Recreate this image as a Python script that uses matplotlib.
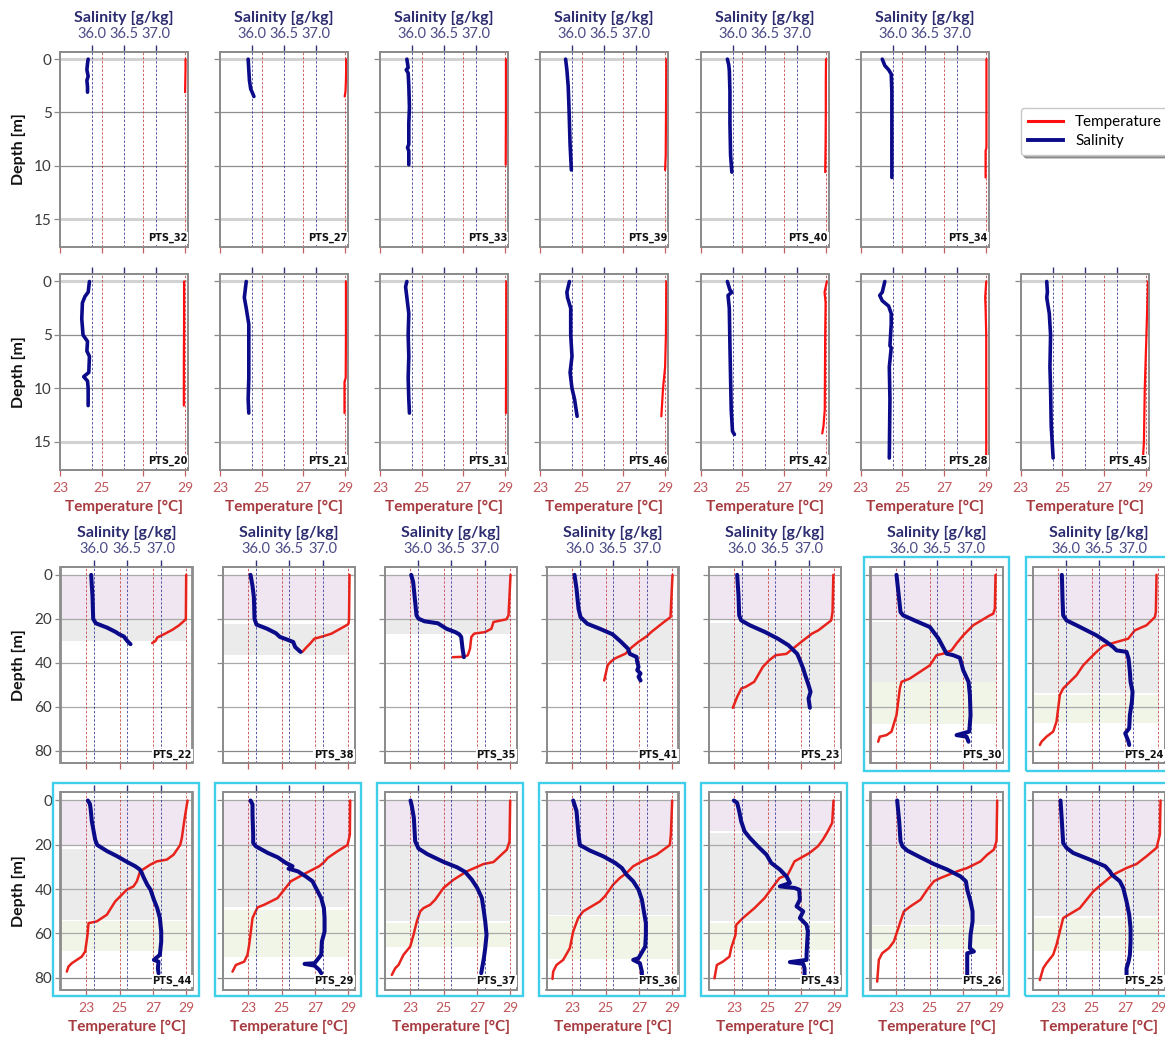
import matplotlib

matplotlib.use("Agg")
import matplotlib.pyplot as plt
from matplotlib.lines import Line2D
from matplotlib.patches import Rectangle

plt.rcParams["font.family"] = ["Lato", "DejaVu Sans"]

# ---------------------------------------------------------------------------
# Profiles: depth [m], temperature [degC], salinity [g/kg]
# ---------------------------------------------------------------------------

# shallow stations (top two rows)
z32t = [0.0, 1.0, 2.0, 3.1]
t32 = [29.02, 29.02, 29.01, 29.0]
z32s = [0.0, 0.4, 1.0, 1.6, 2.0, 2.6, 3.1]
s32 = [35.94, 35.93, 35.92, 35.94, 35.92, 35.93, 35.93]

z27t = [0.0, 1.0, 2.0, 3.0, 3.5]
t27 = [29.05, 29.05, 29.04, 29.02, 28.98]
z27s = [0.0, 1.0, 2.0, 2.8, 3.2, 3.5]
s27 = [35.94, 35.95, 35.96, 35.98, 36.01, 36.03]

z33t = [0.0, 5.0, 9.9]
t33 = [29.04, 29.04, 29.03]
z33s = [0.0, 0.8, 1.0, 1.3, 2.5, 4.5, 6.0, 8.0, 8.3, 8.6, 9.9]
s33 = [35.92, 35.94, 35.91, 35.94, 35.95, 35.96, 35.95, 35.95, 35.93, 35.95, 35.95]

z39t = [0.0, 3.0, 6.0, 9.0, 10.4]
t39 = [29.06, 29.05, 29.04, 29.03, 29.0]
z39s = [0.0, 1.0, 2.5, 4.0, 6.0, 8.0, 10.4]
s39 = [35.90, 35.92, 35.94, 35.95, 35.96, 35.97, 35.99]

z40t = [0.0, 2.0, 5.0, 8.0, 10.6]
t40 = [29.02, 29.01, 29.01, 29.0, 28.98]
z40s = [0.0, 0.5, 1.0, 3.0, 6.0, 9.0, 10.6]
s40 = [35.92, 35.94, 35.95, 35.96, 35.96, 35.97, 35.99]

z34t = [0.0, 4.0, 8.3, 8.6, 11.1]
t34 = [29.04, 29.04, 29.04, 29.0, 29.0]
z34s = [0.0, 0.6, 1.0, 1.4, 3.0, 6.0, 9.0, 11.1]
s34 = [35.84, 35.88, 35.94, 35.98, 35.99, 35.99, 35.99, 35.99]

z20t = [0.0, 4.0, 8.0, 11.6]
t20 = [28.95, 28.95, 28.94, 28.94]
z20s = [0.0, 1.0, 1.4, 2.0, 3.5, 5.0, 5.6, 6.5, 7.0, 8.5, 8.9, 9.3, 10.0, 11.6]
s20 = [35.96, 35.94, 35.89, 35.85, 35.84, 35.86, 35.93, 35.92, 35.96, 35.95, 35.87, 35.93, 35.94, 35.94]

z21t = [0.0, 5.0, 9.0, 9.4, 12.3]
t21 = [29.04, 29.04, 29.03, 28.97, 28.97]
z21s = [0.0, 1.0, 1.5, 2.5, 4.0, 6.0, 9.0, 11.0, 12.3]
s21 = [35.91, 35.89, 35.88, 35.91, 35.95, 35.95, 35.95, 35.94, 35.95]

z31t = [0.0, 6.0, 12.3]
t31 = [29.06, 29.05, 29.04]
z31s = [0.0, 0.5, 1.5, 3.0, 5.0, 7.0, 9.0, 11.0, 12.3]
s31 = [35.92, 35.90, 35.92, 35.95, 35.94, 35.95, 35.94, 35.95, 35.96]

z46t = [0.0, 5.0, 8.0, 10.0, 12.6]
t46 = [29.06, 29.04, 29.0, 28.9, 28.82]
z46s = [0.0, 1.0, 1.5, 2.5, 5.0, 7.0, 8.5, 10.0, 11.0, 12.6]
s46 = [35.96, 35.92, 35.93, 35.98, 35.98, 36.0, 35.97, 36.0, 36.04, 36.08]

z42t = [0.0, 1.0, 2.0, 5.0, 12.0, 13.5, 14.2]
t42 = [29.06, 28.95, 29.0, 28.98, 28.96, 28.9, 28.84]
z42s = [0.0, 0.8, 1.0, 1.3, 2.5, 6.0, 12.0, 14.0, 14.3]
s42 = [35.92, 35.96, 35.99, 35.93, 35.95, 35.96, 35.98, 36.0, 36.03]

z28t = [0.0, 1.5, 2.5, 5.0, 16.3]
t28 = [29.03, 28.98, 29.0, 29.03, 29.03]
z28s = [0.0, 1.0, 1.3, 1.8, 2.3, 3.0, 4.0, 6.0, 6.2, 8.0, 11.0, 16.5]
s28 = [35.88, 35.84, 35.80, 35.84, 35.94, 35.98, 35.98, 35.96, 35.98, 35.95, 35.96, 35.95]

z45t = [0.0, 3.0, 5.0, 10.0, 15.0, 16.3]
t45 = [29.12, 29.07, 29.04, 28.96, 28.92, 28.88]
z45s = [0.0, 1.0, 1.5, 3.0, 5.0, 8.0, 10.0, 13.5, 16.5]
s45 = [35.91, 35.92, 35.91, 35.95, 35.97, 35.96, 35.97, 35.98, 36.01]

# deep stations (bottom two rows)
z22t = [0, 20, 21, 23, 25, 27, 28.5, 30, 31]
t22 = [28.99, 28.97, 28.85, 28.55, 28.15, 27.65, 27.25, 27.15, 26.95]
z22s = [0, 10, 20, 22, 24, 26, 27, 28, 30, 31.5]
s22 = [35.96, 35.98, 35.99, 36.03, 36.2, 36.33, 36.38, 36.45, 36.5, 36.55]

z38t = [0, 20, 22.2, 22.9, 26.7, 28.2, 29, 31.2, 32.8, 35]
t38 = [29.07, 29.04, 29.01, 28.89, 27.99, 27.35, 26.96, 26.71, 26.5, 26.24]
z38s = [0, 5, 10, 20, 22.6, 24.5, 26.5, 28.2, 29.3, 30.5, 32.8, 35]
s38 = [35.92, 35.95, 35.97, 35.98, 36.01, 36.17, 36.3, 36.36, 36.46, 36.56, 36.59, 36.67]

z35t = [0, 18.4, 20.2, 21.4, 24.5, 26, 26.7, 28.2, 33.5, 36.5, 37.2, 37.4]
t35 = [29.01, 28.89, 28.76, 27.99, 27.86, 27.48, 26.83, 26.66, 26.58, 26.45, 26.24, 25.55]
z35s = [0, 3.3, 9.4, 18.4, 19.9, 21.1, 22, 24.5, 26, 27, 28.2, 33.5, 37.4]
s35 = [35.90, 35.93, 35.95, 35.98, 36.01, 36.1, 36.3, 36.43, 36.56, 36.62, 36.65, 36.67, 36.69]

z41t = [0, 10.9, 19.2, 21.4, 26, 27.8, 30.5, 32.8, 35.8, 38, 39.5, 41, 48]
t41 = [29.01, 28.94, 28.89, 28.5, 27.73, 27.48, 26.96, 26.58, 26.19, 25.55, 25.3, 25.12, 24.91]
z41s = [0, 6.3, 15.4, 19.2, 22.2, 24.5, 27, 30.5, 33.5, 35.9, 37.3, 39.5, 41.8, 43.3, 44.8, 46.3, 48]
s41 = [35.92, 35.95, 35.98, 36.01, 36.11, 36.3, 36.49, 36.62, 36.72, 36.75, 36.85, 36.86, 36.88,
       36.86, 36.91, 36.88, 36.91]

z23t = [0, 16.9, 20.7, 25.2, 26.7, 30.5, 35.9, 36.5, 38.8, 41.8, 48.6, 50.9, 51.6, 55.4, 60.4]
t23 = [28.94, 28.89, 28.81, 28.04, 27.66, 27.01, 26.12, 25.48, 25.09, 24.71, 24.19, 23.68, 23.42,
       23.17, 22.91]
z23s = [0, 9.4, 18.4, 20.7, 22.9, 26, 29, 32, 35.9, 38, 42.6, 45.6, 50.1, 53.1, 56.2, 60.4]
s23 = [35.93, 35.95, 35.96, 35.99, 36.12, 36.35, 36.54, 36.7, 36.83, 36.86, 36.92, 36.95, 37.0,
       37.03, 37.0, 37.02]

z30t = [0, 15.4, 17.7, 18.4, 21.1, 22.9, 27.5, 31.2, 34.3, 35.8, 36.5, 38.8, 41.1, 42.6, 47.1,
        48.6, 51.6, 57.7, 63.7, 71.2, 72.8, 73.5, 75.8]
t30 = [28.95, 28.91, 28.81, 28.61, 28.01, 27.61, 27.01, 26.61, 26.31, 25.81, 25.41, 25.21, 25.01,
       24.71, 23.81, 23.31, 23.21, 23.11, 23.01, 22.71, 22.41, 22.01, 21.91]
z30s = [0, 16.9, 18.4, 21.1, 23.7, 29, 35.8, 36.5, 37.7, 43.3, 48.6, 54.6, 63.7, 71.2, 72.8,
        73.5, 75.8]
s30 = [35.89, 35.95, 35.99, 36.19, 36.39, 36.52, 36.64, 36.74, 36.84, 36.89, 36.97, 36.99, 37.0,
       36.98, 36.79, 36.94, 36.97]

z24t = [0, 16.9, 19.2, 22.9, 25.2, 29, 30.5, 32.3, 35, 38, 41.1, 45.6, 48.6, 51.6, 54.6, 60.7,
        66.7, 71.2, 73.5, 75.8, 77.3]
t24 = [28.89, 28.85, 28.79, 28.29, 27.59, 27.19, 26.49, 25.69, 25.29, 24.89, 24.49, 24.09, 23.69,
       23.29, 23.09, 22.99, 22.89, 22.69, 22.29, 21.99, 21.89]
z24s = [0, 10.9, 18.4, 20.7, 22.9, 25.2, 27.5, 30.5, 32.8, 34.3, 35, 38, 44.1, 48.6, 53.1, 57.7,
        63.7, 69.7, 72, 73.5, 75.8, 77.3]
s24 = [35.94, 35.95, 35.96, 36.01, 36.16, 36.31, 36.46, 36.61, 36.71, 36.76, 36.91, 36.94, 36.96,
       36.97, 37.0, 36.99, 36.96, 36.95, 36.89, 36.91, 36.94, 36.95]

z44t = [0, 9.4, 16.9, 20.1, 24.5, 26.7, 27.5, 29, 32, 36.5, 38.8, 40.3, 41.8, 45.6, 51.6, 54.6,
        55.4, 60.7, 68.2, 70.5, 73.5, 75, 77.3]
t44 = [29.07, 28.87, 28.73, 28.63, 28.23, 27.83, 27.23, 26.83, 26.23, 26.03, 25.83, 25.43, 25.23,
       24.73, 24.23, 23.63, 23.13, 23.07, 22.93, 22.73, 22.13, 21.93, 21.83]
z44s = [0, 1.5, 3.3, 9.4, 17.7, 20.1, 22.9, 25.2, 27.8, 29.7, 31.2, 32.8, 34.3, 38, 40.3, 44.8,
        48.6, 53.1, 59.2, 63.7, 69.7, 72, 72.8, 75.8, 78]
s44 = [35.91, 35.94, 35.95, 35.97, 36.02, 36.05, 36.2, 36.35, 36.5, 36.62, 36.69, 36.72, 36.74,
       36.8, 36.85, 36.9, 36.95, 36.99, 37.01, 37.01, 36.99, 36.9, 36.97, 36.96, 36.97]

z29t = [0, 15.4, 20.1, 22.9, 26, 27.8, 29.7, 32.8, 36.5, 40.3, 44.1, 47.1, 48.3, 53.1, 59.2,
        65.2, 69.7, 72.8, 74.3, 77.3]
t29 = [29.11, 29.09, 28.95, 28.35, 27.75, 27.55, 27.25, 26.45, 25.55, 25.15, 24.75, 23.95, 23.55,
       23.25, 23.15, 23.05, 22.95, 22.75, 22.25, 22.05]
z29s = [0, 1.8, 6.3, 15.4, 19.2, 20.7, 23.7, 25.7, 28.2, 29.7, 30.8, 32, 34.3, 36.5, 39.5, 44.1,
        48.6, 53.1, 59.2, 63.7, 69.7, 73.5, 73.8, 74.6, 76.5, 78]
s29 = [35.92, 35.95, 35.95, 35.96, 35.96, 36.0, 36.18, 36.33, 36.45, 36.55, 36.49, 36.63, 36.75,
       36.85, 36.9, 36.98, 37.02, 37.03, 37.03, 36.99, 36.98, 36.88, 36.73, 36.88, 36.95, 36.98]

z37t = [0, 18.4, 22.2, 27.8, 28.7, 32, 35.8, 39.5, 44.8, 47.1, 48.6, 50.1, 54.6, 60.7, 66,
        69.7, 74.3, 75.8, 78.8]
t37 = [28.99, 28.95, 28.79, 27.99, 27.39, 26.39, 25.59, 24.99, 24.49, 24.19, 23.79, 23.59, 23.39,
       23.19, 22.99, 22.59, 22.29, 22.09, 21.89]
z37s = [0, 2.6, 7.8, 18.4, 21.7, 24.2, 27.8, 30.2, 32.3, 35.8, 39.5, 44.1, 50.1, 54.6, 60.7,
        66.7, 71.2, 78]
s37 = [35.89, 35.91, 35.94, 35.96, 36.01, 36.14, 36.39, 36.59, 36.71, 36.81, 36.89, 36.96, 36.99,
       37.01, 37.03, 37.01, 36.99, 36.95]

z36t = [0, 15.4, 20.1, 24.5, 27.2, 29.7, 32.8, 35, 38, 43.3, 45.6, 50.1, 53.1, 59.2, 66.7, 72,
        74.3, 77.3, 80.6]
t36 = [28.99, 28.91, 28.85, 28.05, 27.25, 26.65, 26.25, 25.85, 25.45, 24.95, 24.65, 23.65, 23.35,
       23.05, 22.85, 22.45, 22.05, 21.85, 21.81]
z36s = [0, 4.8, 15.4, 20.1, 22.6, 25.2, 28.2, 30.5, 33.5, 36.5, 40.3, 44.8, 50.1, 55.4, 60.7,
        66, 71.2, 72, 73.5, 77.3, 80.3]
s36 = [35.9, 35.95, 35.98, 36.0, 36.15, 36.35, 36.53, 36.63, 36.7, 36.8, 36.88, 36.93, 36.96,
       36.99, 36.99, 36.98, 36.88, 36.8, 36.9, 36.93, 36.93]

z43t = [0, 10.1, 13.9, 17.7, 20.7, 23.7, 27.5, 32, 33.5, 35, 38, 44.1, 48.6, 53.1, 56.2, 60.7,
        66.7, 70.5, 72.8, 74.3, 80.3]
t43 = [28.95, 28.87, 28.61, 28.31, 28.01, 27.51, 26.61, 26.31, 26.21, 25.71, 25.41, 24.81, 24.21,
       23.51, 23.11, 23.07, 22.81, 22.71, 22.31, 21.95, 21.81]
z43s = [0, 1.1, 4.8, 9.4, 13.9, 16.9, 20.7, 24.5, 28.2, 31.2, 34.3, 37.3, 38.8, 39.5, 40.3, 44.8,
        47.8, 50.1, 53.1, 56.2, 59.2, 63.7, 69.7, 72, 73, 73.8, 75.8, 80.3]
s43 = [35.88, 35.93, 35.96, 35.99, 36.04, 36.12, 36.24, 36.37, 36.44, 36.57, 36.67, 36.72, 36.57,
       36.79, 36.86, 36.87, 36.82, 36.92, 36.87, 36.97, 36.99, 36.98, 36.97, 36.97, 36.72, 36.92,
       36.94, 36.94]

z26t = [0, 18.4, 22.2, 24.5, 27.5, 30.5, 32, 35, 36.5, 40.3, 44.8, 47.8, 50.1, 54.6, 59.2, 63.7,
        66.7, 69, 72, 81.8]
t26 = [29.05, 29.01, 28.85, 28.45, 28.05, 27.25, 26.65, 25.65, 25.25, 24.85, 24.45, 23.85, 23.45,
       23.25, 23.05, 22.85, 22.55, 22.15, 21.95, 21.85]
z26s = [0, 9.4, 18.4, 20.7, 22.6, 25.7, 28.7, 31.2, 34.3, 36.5, 40.3, 45.6, 50.1, 54.6, 60.7,
        66.7, 68.2, 69, 72.8, 81.1]
s26 = [35.9, 35.93, 35.95, 35.98, 36.05, 36.25, 36.45, 36.65, 36.85, 36.93, 36.95, 37.0, 37.03,
       37.03, 37.0, 36.99, 37.05, 36.95, 36.95, 36.95]

z25t = [0, 15.4, 21.4, 25.2, 28.7, 30.5, 33.5, 37.3, 41.1, 48.6, 53.1, 59.2, 65.2, 69.7, 73.5,
        75.8, 81.1]
t25 = [29.13, 29.09, 28.89, 28.29, 27.69, 27.09, 26.29, 25.69, 25.09, 24.29, 23.29, 23.09, 22.89,
       22.69, 22.29, 22.09, 21.89]
z25s = [0, 9.4, 19.2, 21.4, 23.7, 26.7, 29.7, 32, 33.5, 36.5, 39.5, 45.6, 51.6, 57.7, 63.7,
        69.7, 72.8, 75.8, 81.1]
s25 = [35.92, 35.94, 35.96, 36.01, 36.11, 36.36, 36.59, 36.66, 36.69, 36.81, 36.86, 36.91, 36.95,
       36.97, 36.97, 36.96, 36.94, 36.91, 36.91]

# layer depths [m] shaded in the deep stations (None = no layer)
BAND_STATIONS = ["PTS_22", "PTS_38", "PTS_35", "PTS_41", "PTS_23", "PTS_30", "PTS_24",
                 "PTS_44", "PTS_29", "PTS_37", "PTS_36", "PTS_43", "PTS_26", "PTS_25"]
MIXED_TOP = [0, 0, 0, 0.5, 0.75, 0, 0, 0, 0, 0, 0, 0, 0, 0]
MIXED_BOT = [20, 20, 20, 20, 20, 20, 20, 20, 20, 20, 20, 13.6, 20, 20]
CLINE_TOP = [20, 22.3, 20, 20, 21.7, 21.4, 20.6, 21.7, 20.6, 20.6, 20.6, 14.6, 21.1, 20.6]
CLINE_BOT = [30, 36.2, 26.8, 39, 60.4, 48.6, 53.7, 54.1, 48.2, 54.6, 51.6, 54.6, 56.1, 52.3]
DEEP_TOP = [None, None, None, None, None, 48.6, 54.5, 54.6, 49.3, 55.4, 52.4, 55.4, 56.9, 53.1]
DEEP_BOT = [None, None, None, None, None, 67.9, 67.4, 68.2, 70.9, 66.4, 71.7, 67.4, 67.0, 68.2]

ROW1 = ["PTS_32", "PTS_27", "PTS_33", "PTS_39", "PTS_40", "PTS_34"]
ROW2 = ["PTS_20", "PTS_21", "PTS_31", "PTS_46", "PTS_42", "PTS_28", "PTS_45"]
ROW3 = ["PTS_22", "PTS_38", "PTS_35", "PTS_41", "PTS_23", "PTS_30", "PTS_24"]
ROW4 = ["PTS_44", "PTS_29", "PTS_37", "PTS_36", "PTS_43", "PTS_26", "PTS_25"]
BOXED = ["PTS_30", "PTS_24"] + ROW4

PROFILES = {
    "PTS_32": (z32t, t32, z32s, s32), "PTS_27": (z27t, t27, z27s, s27),
    "PTS_33": (z33t, t33, z33s, s33), "PTS_39": (z39t, t39, z39s, s39),
    "PTS_40": (z40t, t40, z40s, s40), "PTS_34": (z34t, t34, z34s, s34),
    "PTS_20": (z20t, t20, z20s, s20), "PTS_21": (z21t, t21, z21s, s21),
    "PTS_31": (z31t, t31, z31s, s31), "PTS_46": (z46t, t46, z46s, s46),
    "PTS_42": (z42t, t42, z42s, s42), "PTS_28": (z28t, t28, z28s, s28),
    "PTS_45": (z45t, t45, z45s, s45),
    "PTS_22": (z22t, t22, z22s, s22), "PTS_38": (z38t, t38, z38s, s38),
    "PTS_35": (z35t, t35, z35s, s35), "PTS_41": (z41t, t41, z41s, s41),
    "PTS_23": (z23t, t23, z23s, s23), "PTS_30": (z30t, t30, z30s, s30),
    "PTS_24": (z24t, t24, z24s, s24), "PTS_44": (z44t, t44, z44s, s44),
    "PTS_29": (z29t, t29, z29s, s29), "PTS_37": (z37t, t37, z37s, s37),
    "PTS_36": (z36t, t36, z36s, s36), "PTS_43": (z43t, t43, z43s, s43),
    "PTS_26": (z26t, t26, z26s, s26), "PTS_25": (z25t, t25, z25s, s25),
}

TEMP_TICKS = [23, 25, 27, 29]
SAL_TICKS = [36.0, 36.5, 37.0]
SHALLOW_TICKS = [0, 5, 10, 15]
DEEP_TICKS = [0, 20, 40, 60, 80]

# ---------------------------------------------------------------------------
# Layout (pixels)
# ---------------------------------------------------------------------------
FIG_W, FIG_H = 1165, 1038
SHALLOW_LEFTS = [60, 220, 380, 540, 700.5, 860.5, 1020.5]
DEEP_LEFTS = [60.5, 222.5, 384.5, 546.5, 708.5, 870.5, 1032.5]
SHALLOW_W, DEEP_W = 128, 132
ROW_SPANS = [(51.7, 247.0), (274.0, 470.0), (566.7, 763.3), (792.3, 990.0)]

RED = "#ff0f0f"
RED_DEEP = "#e8231c"
NAVY = "#0b0b8a"
SAL_TEXT = "#2c2c70"
SAL_TICK_TEXT = "#4b4b86"
TEMP_TEXT = "#a63a3f"
TEMP_TICK_TEXT = "#c0555a"
SPINE = "#8c8c8c"
CYAN = "#3fcfe9"
BAND_COLORS = ["#efe6f1", "#ebebeb", "#f1f5e8"]


def px_rect(left, top, width, bottom):
    return [left / FIG_W, 1 - bottom / FIG_H, width / FIG_W, (bottom - top) / FIG_H]


def add_panel(fig, name, left, span, deep, sal_labels, temp_labels, first_col):
    top, bottom = span
    width = DEEP_W if deep else SHALLOW_W
    ax = fig.add_axes(px_rect(left, top, width, bottom))
    axs = ax.twiny()

    z_t, temp, z_s, sal = PROFILES[name]

    if deep:
        ax.set_xlim(21.45, 21.45 + width / 16.67)
        axs.set_xlim(35.5, 35.5 + width / 66.7)
        ax.set_ylim(85.6, -3.7)
        yticks = DEEP_TICKS
        idx = BAND_STATIONS.index(name)
        spans = [(MIXED_TOP[idx], MIXED_BOT[idx]), (CLINE_TOP[idx], CLINE_BOT[idx]),
                 (DEEP_TOP[idx], DEEP_BOT[idx])]
        for (z0, z1), color in zip(spans, BAND_COLORS):
            if z0 is not None:
                ax.axhspan(z0, z1, xmin=0, xmax=0.96, color=color, lw=0, zorder=0)
        for d in yticks:
            ax.axhline(d, color="#888888" if d == 80 else "#a9a9a9", lw=0.9, zorder=0.5)
        t_color, t_lw, s_lw = RED_DEEP, 1.8, 2.9
    else:
        ax.set_xlim(23, 23 + width / 20.85)
        axs.set_xlim(35.5, 35.5 + width / 64)
        ax.set_ylim(17.62, -0.7)
        yticks = SHALLOW_TICKS
        for d in yticks:
            if d in (yticks[0], yticks[-1]):
                ax.axhline(d, color="#d2d2d2", lw=2.2, zorder=0.5)
            else:
                ax.axhline(d, color="#8f8f8f", lw=0.9, zorder=0.5)
        t_color, t_lw, s_lw = RED, 1.6, 2.6

    ax.plot(temp, z_t, color=t_color, lw=t_lw, zorder=3, solid_capstyle="round")
    axs.plot(sal, z_s, color=NAVY, lw=s_lw, zorder=3, solid_capstyle="round")

    # dashed reference lines on both x scales
    ax.set_xticks(TEMP_TICKS)
    axs.set_xticks(SAL_TICKS)
    ax.grid(axis="x", color="#c23a3a", lw=0.7, ls=(0, (2.5, 1.8)), alpha=0.8)
    axs.grid(axis="x", color="#2e2e92", lw=0.7, ls=(0, (2.5, 1.8)), alpha=0.8)
    ax.set_axisbelow(True)
    ax.set_yticks(yticks)

    ax.tick_params(axis="x", direction="out", length=4, width=0.9, color="#c06060",
                   labelcolor=TEMP_TICK_TEXT, labelsize=10, pad=5,
                   labelbottom=temp_labels)
    axs.tick_params(axis="x", direction="out", length=5, width=1.0, color="#34347a",
                    labelcolor=SAL_TICK_TEXT, labelsize=10.5, pad=3, labeltop=sal_labels)
    ax.tick_params(axis="y", direction="out", length=4, width=0.9, color="#8a8a8a",
                   labelcolor="#3a3a3a", labelsize=11, pad=2, labelleft=first_col)

    for a in (ax, axs):
        for spine in a.spines.values():
            spine.set_color(SPINE)
            spine.set_linewidth(1.3)

    if sal_labels:
        axs.set_xlabel("Salinity [g/kg]", fontsize=11.5, fontweight="bold",
                       color=SAL_TEXT, labelpad=3)
    if temp_labels:
        ax.set_xlabel("Temperature [°C]", fontsize=11, fontweight="bold",
                      color=TEMP_TEXT, labelpad=4)
    if first_col:
        ax.set_ylabel("Depth [m]", fontsize=11.5, fontweight="bold", color="#111111",
                      labelpad=6)

    axs.text(0.995, 0.018, name, transform=ax.transAxes, ha="right", va="bottom",
             fontsize=7, fontweight="bold", color="#111111", zorder=5,
             family="DejaVu Sans",
             bbox=dict(facecolor="white", edgecolor="none", pad=0.6))

    if name in BOXED:
        if span[0] > 780:
            x0, y0, x1, y1 = left - 8, top - 9, left + width + 6.5, bottom + 6
        else:
            x0, y0, x1, y1 = left - 7, top - 10, left + width + 6.5, bottom + 8
        fig.add_artist(Rectangle((x0 / FIG_W, 1 - y1 / FIG_H), (x1 - x0) / FIG_W,
                                 (y1 - y0) / FIG_H, transform=fig.transFigure,
                                 fill=False, edgecolor=CYAN, lw=1.7))


def main():
    fig = plt.figure(figsize=(FIG_W / 100, FIG_H / 100), dpi=100)

    for col, name in enumerate(ROW1):
        add_panel(fig, name, SHALLOW_LEFTS[col], ROW_SPANS[0], False, True, False, col == 0)
    for col, name in enumerate(ROW2):
        add_panel(fig, name, SHALLOW_LEFTS[col], ROW_SPANS[1], False, False, True, col == 0)
    for col, name in enumerate(ROW3):
        add_panel(fig, name, DEEP_LEFTS[col], ROW_SPANS[2], True, True, False, col == 0)
    for col, name in enumerate(ROW4):
        add_panel(fig, name, DEEP_LEFTS[col], ROW_SPANS[3], True, False, True, col == 0)

    handles = [Line2D([], [], color=RED, lw=2.2), Line2D([], [], color=NAVY, lw=2.8)]
    fig.legend(handles, ["Temperature", "Salinity"], loc="upper left",
               bbox_to_anchor=(1021 / FIG_W, 1 - 108 / FIG_H), fontsize=11,
               frameon=True, shadow=True, fancybox=True, edgecolor="#c8c8c8",
               handlelength=2.3, handletextpad=0.8, labelspacing=0.35,
               borderpad=0.45, borderaxespad=0)

    fig.savefig("out.png", dpi=100)
    plt.close(fig)


if __name__ == "__main__":
    main()
